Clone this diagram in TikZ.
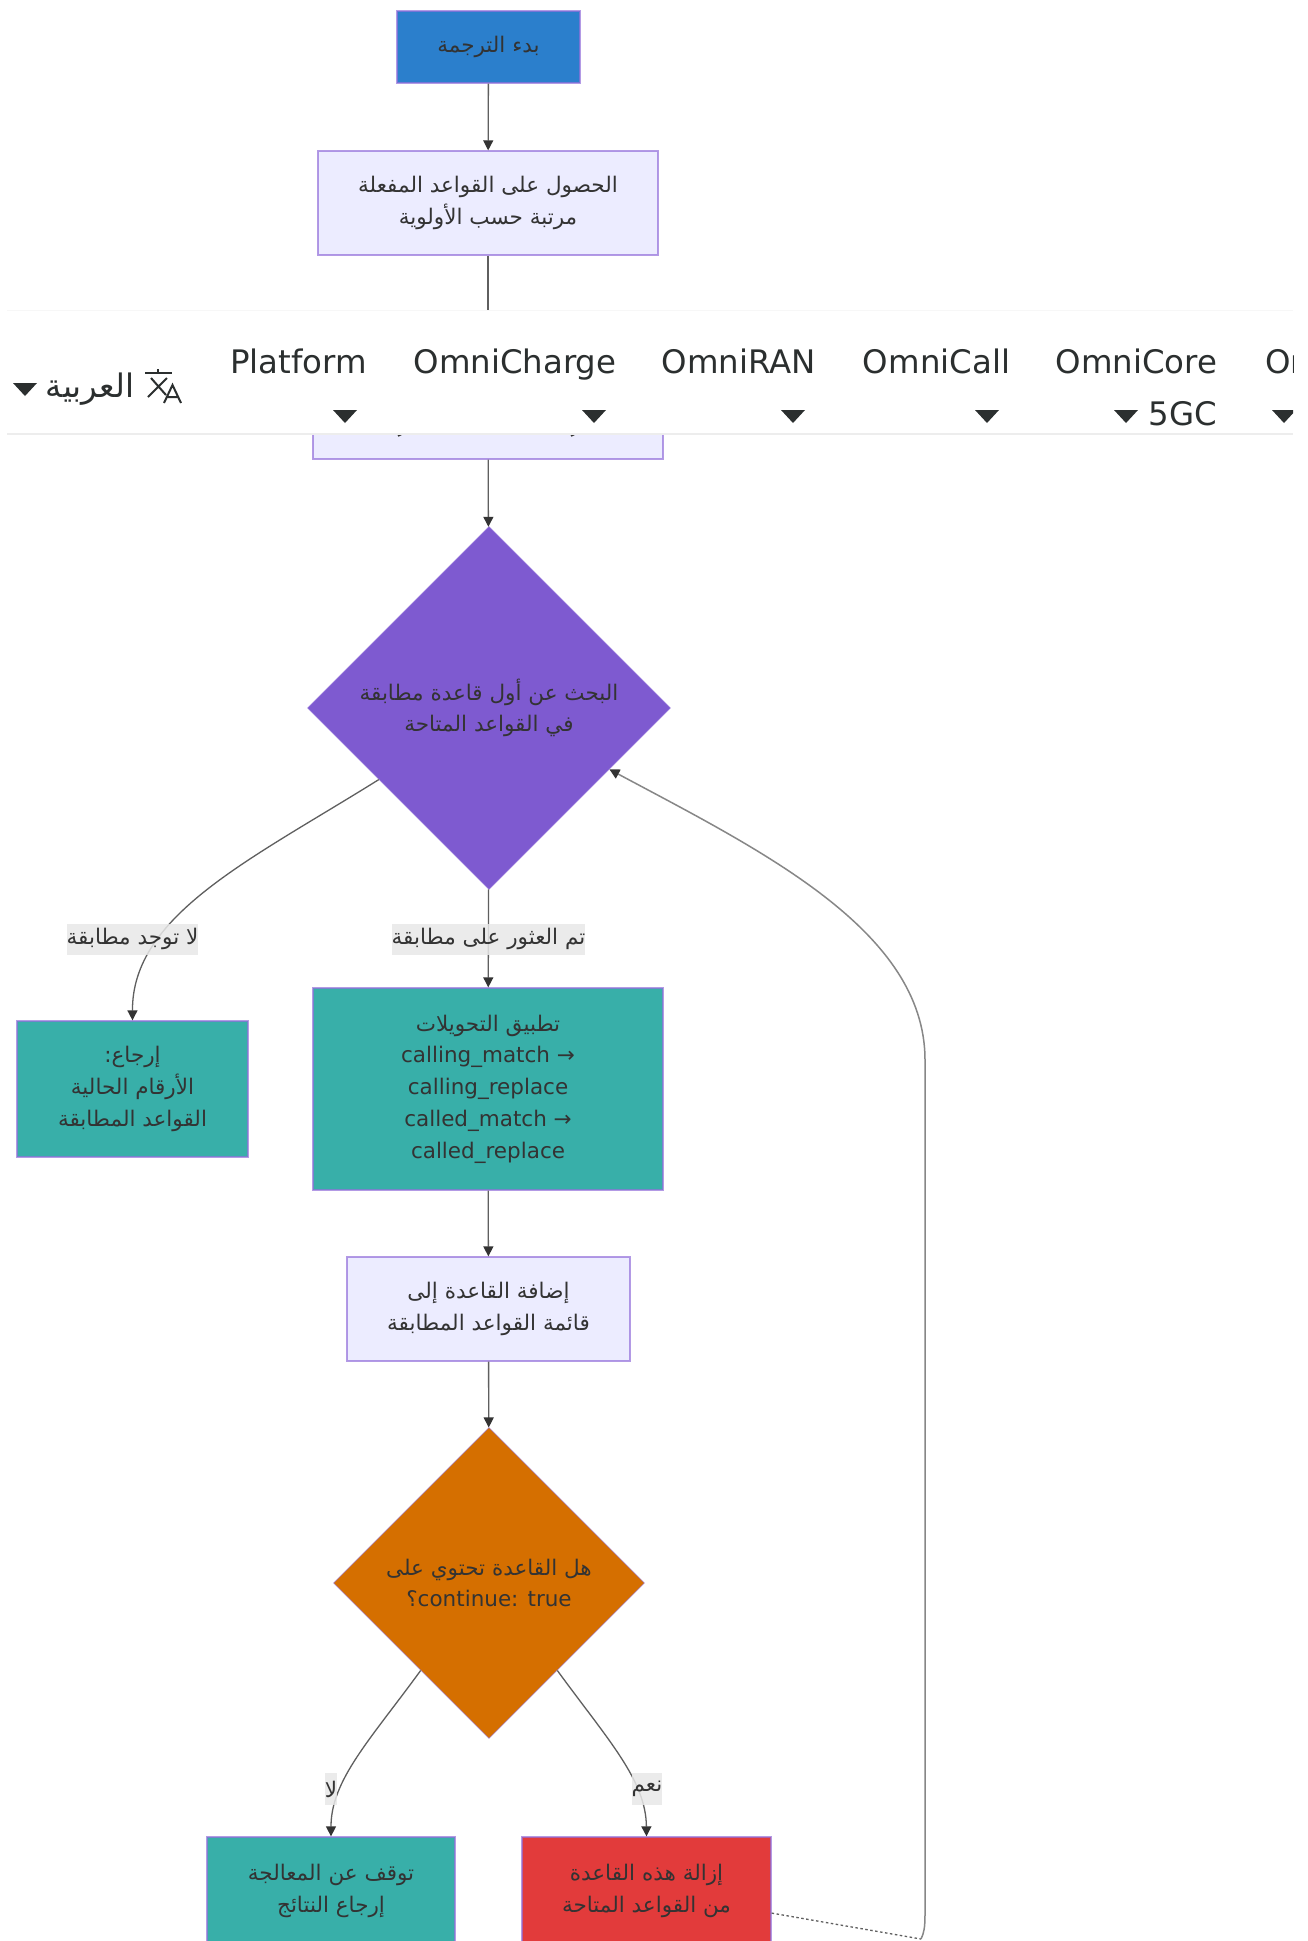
\documentclass[tikz,border=0pt]{standalone}
\usepackage{fontspec}
\setmainfont{DejaVu Sans}
\newfontfamily\arabicfont[Script=Arabic]{DejaVu Sans}
\TeXXeTstate=1
\usetikzlibrary{shapes.geometric,arrows.meta}
\newcommand{\ar}[1]{{\arabicfont\beginR #1\endR}}
\definecolor{txt}{HTML}{333333}
\definecolor{edgec}{HTML}{5F5F5F}
\definecolor{bord}{HTML}{9370DB}
\definecolor{lightn}{HTML}{ECECFF}
\definecolor{bluen}{HTML}{2B7FCC}
\definecolor{tealn}{HTML}{38AFA9}
\definecolor{redn}{HTML}{E23B3B}
\definecolor{orangen}{HTML}{D56F00}
\definecolor{purplen}{HTML}{7E5AD0}
\definecolor{navt}{HTML}{2B2F2F}
\tikzset{
  box/.style={draw=bord,draw opacity=.7,line width=1.3pt,rectangle,align=center,text=txt,inner sep=0pt,
    font=\fontsize{21.5}{31.7}\selectfont},
  choice/.style={draw=bord,draw opacity=.6,line width=0.6pt,diamond,aspect=1,align=center,text=txt,inner sep=0pt,
    font=\fontsize{21.5}{31.7}\selectfont},
  flow/.style={draw=edgec,line width=1.3pt,-{Triangle[length=10pt,width=10pt,color=txt]}},
  back/.style={draw=edgec!75,line width=1.5pt},
  tag/.style={fill=black!9,fill opacity=.85,text opacity=1,text=txt,inner sep=0pt,align=center,
    font=\fontsize{21.5}{26}\selectfont},
  navlab/.style={text=navt,inner sep=0pt,anchor=base,font=\fontsize{32.4}{36}\selectfont},
  caret/.style={fill=navt,draw=none}
}
\begin{document}
\begin{tikzpicture}[x=1pt,y=-1pt]
\useasboundingbox[fill=white] (0,0) rectangle (1308,1941);
\begin{scope}
\clip (0,0) rectangle (1308,1941);
% nodes
\node[box,fill=bluen,minimum width=183pt,minimum height=72pt] (start) at (488.5,47) {\ar{بدء الترجمة}};
\node[box,fill=lightn,minimum width=340pt,minimum height=104pt] (rules) at (488,203) {\ar{الحصول على القواعد المفعلة}\\\ar{مرتبة حسب الأولوية}};
\node[box,fill=lightn,minimum width=350pt,minimum height=104pt] (hidden) at (488,407) {};
\node[choice,fill=purplen,minimum width=363pt,minimum height=363pt] (find) at (489,708) {\ar{البحث عن أول قاعدة مطابقة}\\\ar{في القواعد المتاحة}};
\node[box,fill=tealn,minimum width=231pt,minimum height=136pt] (ret) at (132.5,1089) {\ar{إرجاع:}\\\ar{الأرقام الحالية}\\\ar{القواعد المطابقة}};
\node[box,fill=tealn,minimum width=350pt,minimum height=202pt] (apply) at (488,1089) {\ar{تطبيق التحويلات}\\calling\_match →\\calling\_replace\\called\_match →\\called\_replace};
\node[box,fill=lightn,minimum width=283pt,minimum height=104pt] (add) at (488.5,1309) {\ar{إضافة القاعدة إلى}\\\ar{قائمة القواعد المطابقة}};
\node[choice,fill=orangen,minimum width=311pt,minimum height=311pt] (cont) at (489,1583) {\ar{هل القاعدة تحتوي على}\\\beginR\beginL continue: true\endL\ar{؟}\endR};
\node[box,fill=tealn,minimum width=248pt,minimum height=108pt] (stop) at (331,1891) {\ar{توقف عن المعالجة}\\\ar{إرجاع النتائج}};
\node[box,fill=redn,minimum width=249pt,minimum height=108pt] (rem) at (646.5,1891) {\ar{إزالة هذه القاعدة}\\\ar{من القواعد المتاحة}};
\coordinate (bend) at (921,1939);
% connectors
\draw[flow] (start) -- (rules);
\draw[flow] (rules) -- (hidden);
\draw[flow] (hidden) -- (find);
\draw[flow] (find) -- (apply);
\draw[flow] (find.213) .. controls (250,860) and (132,915) .. (ret.north);
\draw[flow] (apply) -- (add);
\draw[flow] (add) -- (cont);
\draw[flow] (cont.232.6) .. controls (370,1740) and (331,1780) .. (stop.north);
\draw[flow] (cont.-52.6) .. controls (608,1740) and (646,1780) .. (rem.north);
\draw[edgec,line width=1.3pt,dash pattern=on 2.5pt off 2.5pt] (rem.-10) -- (bend);
\draw[back,-{Triangle[length=10pt,width=10pt,color=txt]}] (bend) .. controls (924,1933) and (925,1927) .. (925,1915) -- (925,1060) .. controls (925,930) and (760,850) .. (find.-27.5);
% edge labels
\node[tag,minimum width=193pt,minimum height=31pt] (lfound) at (488.5,939) {\ar{تم العثور على مطابقة}};
\node[tag,minimum width=131pt,minimum height=31pt] (lnone) at (132.5,939) {\ar{لا توجد مطابقة}};
\node[tag,minimum width=12pt,minimum height=32pt] (lno) at (331,1789) {\ar{لا}};
\node[tag,minimum width=30pt,minimum height=32pt] (lyes) at (647,1789) {\ar{نعم}};
% fragments of the covered text
\draw[txt,line width=1.6pt] (398,436) -- (402,434);
\draw[txt,line width=1.2pt] (480,434.5) -- (481,434.5);
\draw[txt,line width=1.6pt] (571,436) -- (575,434);
% navigation bar
\fill[black!3] (7,310) rectangle (1293,311);
\fill[black!7] (7,433) rectangle (1293,435);
\begin{scope}
\clip (7,311) rectangle (1293,433);
\fill[white] (7,311) rectangle (1293,433);
\node[navlab] (n1) at (298.5,373) {Platform};
\node[navlab] (n2) at (515,373) {OmniCharge};
\node[navlab] (n3) at (739,373) {OmniRAN};
\node[navlab] (n4) at (936.5,373) {OmniCall};
\node[navlab] (n5) at (1136.5,373) {OmniCore};
\node[navlab,anchor=base west] (n6) at (1265,373) {Om};
\node[navlab] (n7) at (1183,425) {5GC};
\fill[caret] (333,410) -- (357,410) -- (345,423) -- cycle;
\fill[caret] (582,410) -- (606,410) -- (594,423) -- cycle;
\fill[caret] (781,410) -- (805,410) -- (793,423) -- cycle;
\fill[caret] (975,410) -- (999,410) -- (987,423) -- cycle;
\fill[caret] (1114,410) -- (1138,410) -- (1126,423) -- cycle;
\fill[caret] (1272,410) -- (1296,410) -- (1284,423) -- cycle;
\fill[caret] (13,383) -- (37,383) -- (25,396) -- cycle;
\node[navlab,anchor=center] (lang) at (90,389) {\ar{العربية}};
\draw[navt,line width=2pt] (145,373) -- (172,373) (158,369) -- (158,373);
\draw[navt,line width=2pt] (151,378) -- (166,395) (167,378) -- (148,397);
\draw[navt,line width=2pt,line join=miter] (164,403) -- (172.5,385) -- (181,403) (167.5,397) -- (177.5,397);
\end{scope}
\end{scope}
\end{tikzpicture}
\end{document}
